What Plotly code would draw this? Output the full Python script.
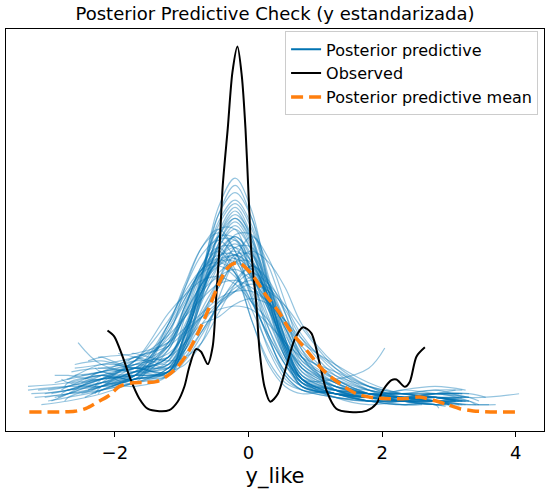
import plotly.graph_objects as go

# observed KDE (peak scaled to 1)
obs_x = [-2.11, -2.01, -1.885, -1.76, -1.635, -1.51, -1.335, -1.185, -1.06, -0.96,
         -0.885, -0.785, -0.71, -0.61, -0.535, -0.485, -0.435, -0.385, -0.31, -0.24,
         -0.165, -0.10, -0.045, 0.0, 0.04, 0.075, 0.115, 0.165, 0.24, 0.325,
         0.44, 0.565, 0.69, 0.815, 0.94, 1.065, 1.165, 1.315, 1.515, 1.765,
         1.915, 2.015, 2.14, 2.215, 2.34, 2.415, 2.515, 2.64]
obs_y = [0.223, 0.207, 0.152, 0.087, 0.037, 0.009, 0.002, 0.005, 0.028, 0.069,
         0.124, 0.172, 0.165, 0.131, 0.18, 0.308, 0.446, 0.62, 0.776, 0.93,
         1.0, 0.92, 0.776, 0.6, 0.446, 0.372, 0.30, 0.17, 0.069, 0.028,
         0.05, 0.124, 0.198, 0.232, 0.216, 0.133, 0.06, 0.009, 0.0, 0.003,
         0.023, 0.06, 0.087, 0.089, 0.069, 0.083, 0.152, 0.177]

# posterior predictive mean
mean_x = [-3.28, -2.9, -2.6, -2.43, -2.23, -2.08, -1.93, -1.73, -1.53, -1.38,
          -1.23, -1.08, -0.93, -0.78, -0.63, -0.48, -0.33, -0.21, -0.11, 0.07,
          0.27, 0.45, 0.615, 0.865, 1.115, 1.365, 1.615, 1.865, 2.115, 2.365,
          2.565, 2.765, 2.965, 3.165, 3.365, 3.7, 4.04]
mean_y = [0.0, 0.0, 0.002, 0.01, 0.03, 0.046, 0.07, 0.08, 0.081, 0.083,
          0.097, 0.12, 0.156, 0.207, 0.267, 0.335, 0.39, 0.407, 0.405, 0.372,
          0.317, 0.275, 0.225, 0.17, 0.115, 0.078, 0.05, 0.039, 0.036, 0.037,
          0.041, 0.032, 0.021, 0.009, 0.003, 0.0, 0.0]

# posterior predictive draws: values on a shared grid, each draw has its own ends
pp_grid = [-2.7, -2.2, -1.7, -1.2, -0.95, -0.7, -0.45, -0.2, 0.05, 0.3, 0.55, 0.8,
           1.3, 1.8, 2.3, 2.8, 3.3]
N = None
pp_rows = [
    [.06, .09, .11, .15, .23, .33, .42, .45, .41, .31, .20, .12, .07, .04, .03, .04, .03],
    [.05, .10, .12, .11, .19, .32, .46, .52, .45, .29, .16, .08, .06, .03, .04, .05, N],
    [N, .13, .12, .24, .32, .38, .40, .37, .30, .21, .13, .08, .05, .04, .03, .03, N],
    [.08, .07, .08, .12, .18, .28, .36, .43, .43, .35, .24, .14, .08, .05, .05, .04, N],
    [N, .08, .14, .21, .26, .31, .35, .36, .34, .30, .24, .18, .09, .05, .03, .02, N],
    [.04, .06, .10, .18, .29, .40, .47, .47, .38, .26, .15, .09, .05, .03, .03, .05, N],
    [N, .12, .14, .20, .27, .35, .40, .42, .39, .32, .23, .15, .09, .05, .03, .02, N],
    [N, .09, .10, .11, .18, .33, .49, .56, .48, .31, .16, .08, .05, .04, .06, .05, N],
    [.03, .05, .08, .10, .19, .36, .54, .62, .53, .34, .17, .08, .05, .03, .03, .02, .02],
    [N, .11, .09, .24, .34, .43, .47, .42, .31, .20, .11, .07, .05, .04, .04, .03, N],
    [N, N, .15, .12, .15, .22, .29, .34, .36, .34, .28, .20, .10, .06, .04, .05, N],
    [.08, .10, .09, .12, .21, .34, .45, .50, .44, .31, .18, .09, .05, .03, .02, .03, N],
    [.07, .07, .10, .22, .30, .38, .42, .42, .365, .28, .19, .12, .07, .05, .04, .05, .03],
    [N, N, .11, .17, .28, .40, .45, .39, .25, .14, .08, .06, .05, .04, .03, .03, N],
    [N, .07, .12, .10, .14, .21, .29, .36, .40, .36, .27, .17, .09, .05, .03, .02, N],
    [.05, .08, .09, .11, .22, .37, .52, .58, .51, .36, .20, .09, .04, .02, .03, .04, N],
    [N, .14, .12, .15, .23, .33, .41, .44, .40, .30, .19, .11, .07, .05, .04, .04, N],
    [N, .09, .14, .25, .33, .39, .41, .38, .30, .21, .13, .08, .06, .05, .04, .04, N],
    [.05, .06, .08, .11, .20, .35, .48, .53, .47, .33, .18, .09, .05, .04, .03, .03, N],
    [N, N, .15, .13, .17, .24, .30, .35, .38, .35, .29, .21, .11, .06, .05, .06, N],
    [.06, .08, .11, .15, .24, .34, .42, .46, .41, .31, .19, .10, .06, .04, .03, .03, N],
    [N, .10, .09, .17, .27, .39, .48, .475, .37, .23, .13, .07, .05, .05, .05, .03, N],
    [.09, .11, .13, .16, .21, .26, .30, .33, .35, .33, .29, .23, .12, .06, .03, .02, N],
    [N, .06, .09, .11, .22, .38, .54, .60, .53, .37, .20, .09, .04, .04, .04, .03, N],
    [N, N, .12, .14, .23, .35, .44, .48, .43, .33, .20, .11, .06, .04, .06, .07, N],
    [.05, .07, .11, .22, .31, .39, .42, .38, .28, .18, .10, .06, .05, .04, .03, .03, .02],
    [N, .11, .13, .12, .18, .31, .45, .51, .44, .28, .15, .07, .05, .03, .02, N, N],
    [N, .15, .16, .19, .23, .27, .31, .33, .33, .30, .25, .19, .13, .08, .05, .04, N],
    [.06, .08, .07, .10, .18, .32, .48, .55, .47, .31, .16, .07, .05, .03, .03, .04, N],
    [N, N, .09, .19, .29, .38, .45, .45, .36, .25, .15, .09, .05, .04, .03, .05, .05],
    [.04, .07, .10, .19, .26, .35, .41, .43, .40, .32, .23, .15, .08, .04, .02, .02, N],
    [N, N, .16, .14, .15, .19, .27, .35, .40, .35, .25, .15, .07, .05, .04, .03, N],
    [.07, .09, .10, .13, .21, .33, .43, .48, .42, .30, .17, .09, .05, .04, .04, .05, N],
    [N, .10, .12, .21, .34, .45, .50, .44, .31, .17, .09, .06, .04, .03, .04, .04, N],
    [N, .11, .10, .11, .17, .27, .34, .41, .41, .33, .23, .13, .08, .05, .05, N, N],
    [.06, .09, .13, .15, .22, .31, .38, .41, .37, .28, .18, .10, .07, .05, .03, .03, N],
    [N, N, .09, .10, .19, .37, .56, .64, .55, .35, .17, .08, .04, .03, .04, .04, N],
    [.08, .10, .08, .23, .31, .39, .43, .43, .375, .29, .19, .12, .08, .05, .05, .06, .04],
    [N, .12, .11, .12, .16, .22, .29, .33, .37, .33, .25, .16, .10, .07, .05, .04, N],
    [N, .07, .11, .10, .17, .31, .46, .53, .46, .29, .15, .07, .05, .03, .03, .03, N],
    [.10, .09, .14, .27, .32, .36, .37, .35, .30, .25, .18, .13, .07, .06, .04, .03, N],
    [N, .15, .12, .13, .21, .33, .42, .47, .41, .30, .17, .09, .09, .12, N, N, N],
    [N, .09, .13, .18, .27, .35, .41, .41, .33, .23, .14, .09, .06, .04, .05, .05, N],
    [.06, .07, .09, .11, .13, .19, .31, .42, .48, .42, .30, .17, .06, .03, .02, .03, N],
    [N, .06, .09, .11, .21, .37, .51, .57, .50, .35, .19, .09, .06, .05, .04, .03, N],
    [N, N, .10, .15, .22, .32, .40, .43, .39, .29, .18, .10, .06, .05, .04, .04, N],
    [.09, .13, .12, .11, .17, .26, .36, .45, .45, .35, .22, .12, .06, .04, .03, .02, N],
    [N, .07, .10, .24, .35, .45, .49, .44, .32, .20, .11, .07, .05, .05, .04, .04, N],
    [N, N, .14, .15, .19, .24, .26, .295, .31, .295, .25, .20, .12, .07, .04, .03, N],
    [.07, .09, .10, .11, .21, .36, .48, .54, .48, .33, .18, .09, .06, .05, .05, .04, N],
    [N, .11, .15, .18, .22, .26, .28, .29, .28, .24, .19, .15, .11, .07, .05, .04, N],
    [.05, .08, .10, .14, .26, .38, .50, .50, .37, .21, .10, .06, .04, .03, .03, .03, N],
    [N, .08, .11, .13, .19, .26, .34, .41, .44, .41, .34, .24, .13, .07, .04, .03, N],
    [.07, .11, .12, .18, .29, .39, .44, .38, .25, .13, .07, .05, .06, .05, .04, .03, N],
    [N, .13, .15, .19, .26, .33, .37, .39, .36, .30, .21, .14, .09, .06, .05, .05, .04],
    [N, .06, .08, .12, .19, .30, .40, .485, .485, .40, .27, .15, .06, .04, .03, .03, N],
]
pp_x0 = [-3.25, -2.95, -2.55, -2.8, -2.4, -3.0, -2.25, -2.65, -3.1, -2.35,
         -1.95, -2.75, -3.3, -2.1, -2.5, -2.85, -2.6, -2.3, -3.05, -1.8,
         -2.72, -2.45, -2.9, -2.25, -2.0, -3.2, -2.6, -2.4, -2.95, -2.15,
         -2.75, -1.75, -3.15, -2.5, -2.3, -2.8, -2.05, -3.3, -2.65, -2.35,
         -2.9, -2.25, -2.55, -3.05, -2.45, -1.9, -2.72, -2.3, -2.0, -2.8,
         -2.5, -2.9, -2.4, -3.0, -2.6, -2.35]
pp_y0 = [.05, .03, .19, .09, .06, .03, .12, .08, .02, .10,
         .16, .07, .06, .09, .05, .04, .13, .07, .04, .14,
         .06, .09, .08, .05, .11, .04, .10, .14, .05, .08,
         .03, .16, .06, .08, .12, .05, .07, .07, .11, .06,
         .10, .15, .07, .05, .04, .09, .09, .05, .13, .06,
         .10, .04, .07, .06, .12, .05]
pp_x1 = [3.45, 3.2, 3.05, 3.25, 2.95, 3.1, 2.85, 3.3, 3.6, 3.0,
         3.15, 2.9, 3.4, 3.2, 2.8, 3.15, 3.2, 3.1, 3.25, 3.2,
         3.05, 3.0, 2.95, 3.3, 3.25, 3.7, 2.6, 3.1, 3.2, 3.55,
         2.85, 3.0, 3.3, 3.15, 2.75, 3.2, 3.1, 4.05, 3.25, 3.05,
         3.0, 2.04, 3.2, 3.1, 3.3, 3.05, 2.9, 3.25, 2.95, 3.3,
         3.15, 3.15, 3.0, 3.2, 3.45, 3.1]
pp_y1 = [.02, .05, .02, .03, .015, .06, .02, .04, .02, .02,
         .05, .03, .02, .04, .02, .04, .03, .03, .02, .06,
         .02, .02, .02, .03, .06, .02, .02, .03, .03, .04,
         .01, .02, .05, .03, .04, .02, .03, .05, .04, .02,
         .03, .175, .05, .03, .03, .03, .02, .03, .02, .04,
         .03, .02, .02, .03, .03, .03]

blue = "#0173b2"
fig = go.Figure()

for row, x0, y0, x1, y1 in zip(pp_rows, pp_x0, pp_y0, pp_x1, pp_y1):
    inside = [(g, v) for g, v in zip(pp_grid, row) if v is not None and x0 < g < x1]
    xs = [x0] + [g for g, v in inside] + [x1]
    ys = [y0] + [v for g, v in inside] + [y1]
    fig.add_trace(go.Scatter(x=xs, y=ys, mode="lines", showlegend=False, hoverinfo="skip",
                             line=dict(color="rgba(1,115,178,0.42)", width=1.2,
                                       shape="spline", smoothing=1.0)))

# legend entry for the draws in full colour
fig.add_trace(go.Scatter(x=[None], y=[None], mode="lines", name="Posterior predictive",
                         line=dict(color=blue, width=2)))
fig.add_trace(go.Scatter(x=obs_x, y=obs_y, mode="lines", name="Observed",
                         line=dict(color="black", width=2, shape="spline", smoothing=0.8)))
fig.add_trace(go.Scatter(x=mean_x, y=mean_y, mode="lines", name="Posterior predictive mean",
                         line=dict(color="#ff7f0e", width=3.5, dash="12px,6px",
                                   shape="spline", smoothing=0.8)))

font = "DejaVu Sans"
fig.update_layout(
    width=550, height=499,
    margin=dict(l=6, r=6, t=29, b=68),
    paper_bgcolor="white", plot_bgcolor="white",
    font=dict(family=font, color="black"),
    title=dict(text="Posterior Predictive Check (y estandarizada)", x=0.5, xref="paper",
               xanchor="center", y=0.972, yref="container", yanchor="middle",
               font=dict(size=18, family=font, color="black")),
    legend=dict(x=0.989, y=0.994, xanchor="right", yanchor="top",
                bordercolor="#cccccc", borderwidth=1, bgcolor="rgba(255,255,255,0.8)",
                font=dict(size=16, family=font, color="black")),
)
fig.update_xaxes(range=[-3.629, 4.423], tickvals=[-2, 0, 2, 4], ticks="outside",
                 ticklen=5, tickwidth=1, tickcolor="black", showgrid=False, zeroline=False,
                 showline=True, mirror=True, linecolor="black", linewidth=1, automargin=False,
                 tickfont=dict(size=18, family=font, color="black"),
                 title=dict(text="y_like", standoff=6, font=dict(size=21, family=font, color="black")))
fig.update_yaxes(range=[-0.052, 1.048], showticklabels=False, ticks="", showgrid=False,
                 zeroline=False, showline=True, mirror=True, linecolor="black", linewidth=1,
                 automargin=False)

# drop the page's default body margin so the figure sits at the window corner
fig.write_html("out.html", config={"displayModeBar": False},
               post_script="document.body.style.margin='0';")
